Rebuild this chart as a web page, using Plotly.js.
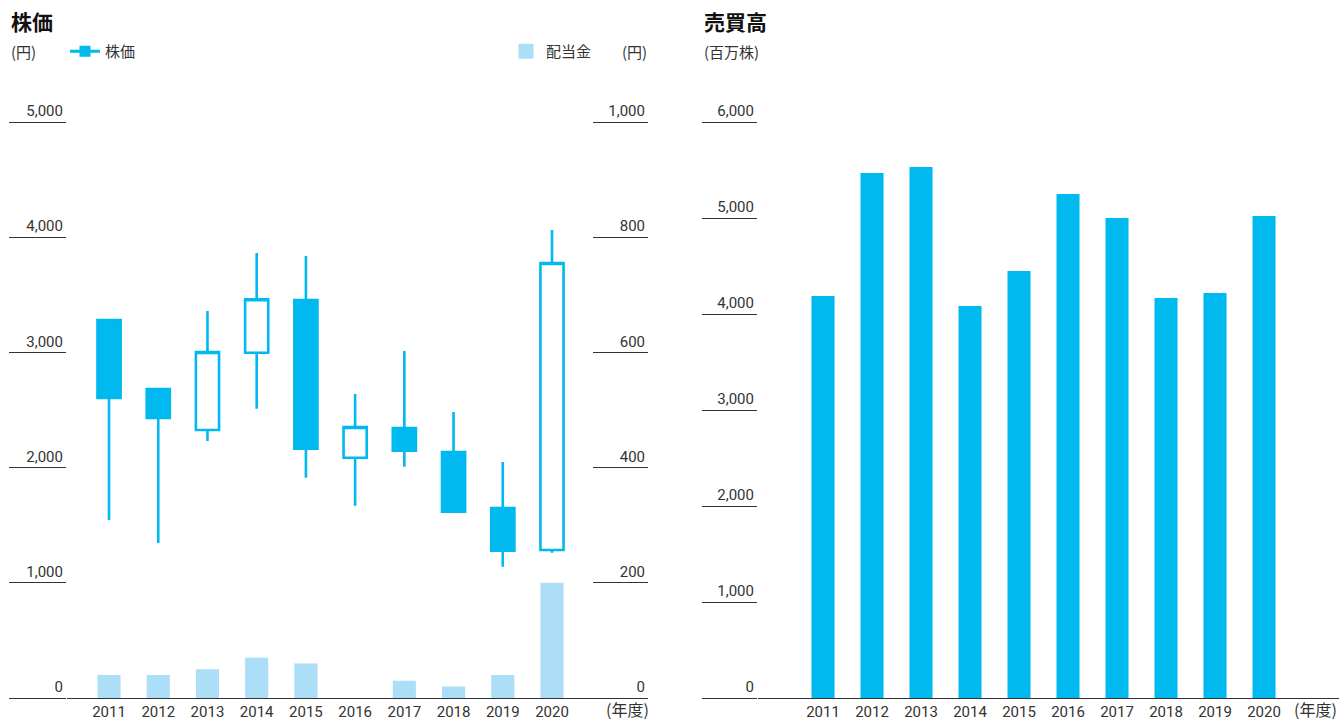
<!DOCTYPE html>
<html>
<head>
<meta charset="utf-8">
<script src="https://cdn.plot.ly/plotly-3.0.1.min.js"></script>
<style>html,body{margin:0;padding:0;background:#fff;}#chart{width:1339px;height:720px;}</style>
</head>
<body>
<div id="chart"></div>
<script>
const years = ['2011','2012','2013','2014','2015','2016','2017','2018','2019','2020'];
const priceOpen  = [3281, 2682, 2326, 2997, 3455, 2086, 2344, 2135, 1649, 1285];
const priceHigh  = [3281, 2690, 3359, 3863, 3837, 2639, 3012, 2483, 2049, 4063];
const priceLow   = [1545, 1345, 2231, 2511, 1912, 1669, 2008, 1617, 1140, 1261];
const priceClose = [2604, 2431, 3003, 3461, 2164, 2352, 2147, 1617, 1279, 3776];
const dividends  = [40, 40, 50, 70, 60, 0, 30, 20, 40, 200];
const volume     = [4188, 5469, 5531, 4083, 4448, 5250, 5000, 4167, 4219, 5021];
const priceTicks = [0, 1000, 2000, 3000, 4000, 5000];
const priceTickText = ['0', '1,000', '2,000', '3,000', '4,000', '5,000'];
const divTicks = [0, 200, 400, 600, 800, 1000];
const divTickText = ['0', '200', '400', '600', '800', '1,000'];
const volTicks = [0, 1000, 2000, 3000, 4000, 5000, 6000];
const volTickText = ['0', '1,000', '2,000', '3,000', '4,000', '5,000', '6,000'];

const W = 1339, H = 720;
const px = v => v / W;
const py = v => 1 - v / H;
const CYAN = '#00B9EF';
const LIGHT = '#ADDEF7';
const TXT = '#333333';
const FONT = 'Roboto, "Noto Sans CJK JP", sans-serif';
const JFONT = '"Noto Sans CJK JP", Roboto, sans-serif';

const traces = [
  {
    type: 'bar', x: years, y: dividends, xaxis: 'x', yaxis: 'y2',
    name: '配当金', marker: {color: LIGHT}, showlegend: false,
    hoverinfo: 'skip'
  },
  {
    type: 'scatter', x: [null], y: [null], xaxis: 'x', yaxis: 'y2', name: '配当金',
    mode: 'markers', marker: {color: LIGHT, symbol: 'square', size: 15},
    legend: 'legend2', showlegend: true
  },
  {
    type: 'candlestick', x: years, open: priceOpen, high: priceHigh, low: priceLow, close: priceClose,
    xaxis: 'x', yaxis: 'y', name: '株価', showlegend: false, whiskerwidth: 0,
    increasing: {line: {color: CYAN, width: 2.6}, fillcolor: '#ffffff'},
    decreasing: {line: {color: CYAN, width: 2.6}, fillcolor: CYAN}
  },
  {
    type: 'scatter', x: [null], y: [null], xaxis: 'x', yaxis: 'y', name: '株価',
    mode: 'lines+markers', line: {color: CYAN, width: 3}, marker: {color: CYAN, symbol: 'square', size: 11},
    legend: 'legend', showlegend: true
  },
  {
    type: 'bar', x: years, y: volume, xaxis: 'x2', yaxis: 'y3', name: '売買高',
    marker: {color: CYAN}, showlegend: false
  }
];

const yCommon = {
  showgrid: false, zeroline: false, showline: false,
  ticks: 'outside', ticklen: 57, tickwidth: 1, tickcolor: TXT,
  ticklabelstandoff: -57, ticklabelshift: -11,
  tickfont: {family: FONT, size: 15, color: TXT},
  fixedrange: true
};

const layout = {
  width: W, height: H,
  margin: {l: 0, r: 0, t: 0, b: 0, autoexpand: false},
  paper_bgcolor: '#fff', plot_bgcolor: 'rgba(0,0,0,0)',
  font: {family: FONT, size: 15, color: TXT},
  bargap: 0.53, boxgap: 0.53, boxgroupgap: 0,
  xaxis: {
    domain: [px(67), px(593)], type: 'category', range: [-0.854, 9.833],
    showgrid: false, zeroline: false, showline: true, linecolor: TXT, linewidth: 1,
    ticks: '', tickfont: {family: FONT, size: 15, color: TXT},
    rangeslider: {visible: false}, fixedrange: true, anchor: 'y'
  },
  yaxis: Object.assign({}, yCommon, {
    domain: [py(698), py(122)], range: [0, 5000], tickvals: priceTicks, ticktext: priceTickText,
    anchor: 'x'
  }),
  yaxis2: Object.assign({}, yCommon, {
    domain: [py(698), py(122)], range: [0, 1000], tickvals: divTicks, ticktext: divTickText,
    overlaying: 'y', side: 'left', anchor: 'free', position: px(648), ticklen: 55, ticklabelstandoff: -55
  }),
  xaxis2: {
    domain: [px(758), 1], type: 'category', range: [-1.327, 10.53],
    showgrid: false, zeroline: false, showline: true, linecolor: TXT, linewidth: 1,
    ticks: '', tickfont: {family: FONT, size: 15, color: TXT}, fixedrange: true, anchor: 'y3'
  },
  yaxis3: Object.assign({}, yCommon, {
    domain: [py(698), py(122)], range: [0, 6000], tickvals: volTicks, ticktext: volTickText,
    anchor: 'x2', ticklen: 55, ticklabelstandoff: -55
  }),
  legend: {
    x: px(65), y: py(35), xanchor: 'left', yanchor: 'top', orientation: 'h',
    font: {family: JFONT, size: 15, color: TXT}, bgcolor: 'rgba(0,0,0,0)', itemwidth: 30
  },
  legend2: {
    x: px(506), y: py(35), xanchor: 'left', yanchor: 'top', orientation: 'h',
    font: {family: JFONT, size: 15, color: TXT}, bgcolor: 'rgba(0,0,0,0)', itemwidth: 30
  },
  annotations: [
    {text: '<b>株価</b>', xref: 'paper', yref: 'paper', x: px(9), y: py(21), xanchor: 'left', yanchor: 'middle', showarrow: false, font: {family: JFONT, size: 21, color: '#111'}},
    {text: '(円)', xref: 'paper', yref: 'paper', x: px(9), y: py(52), xanchor: 'left', yanchor: 'middle', showarrow: false, font: {family: JFONT, size: 15, color: TXT}},
    {text: '(円)', xref: 'paper', yref: 'paper', x: px(649), y: py(52), xanchor: 'right', yanchor: 'middle', showarrow: false, font: {family: JFONT, size: 15, color: TXT}},
    {text: '(年度)', xref: 'paper', yref: 'paper', x: px(651), y: py(709), xanchor: 'right', yanchor: 'middle', showarrow: false, font: {family: JFONT, size: 16, color: TXT}},
    {text: '<b>売買高</b>', xref: 'paper', yref: 'paper', x: px(702), y: py(21), xanchor: 'left', yanchor: 'middle', showarrow: false, font: {family: JFONT, size: 21, color: '#111'}},
    {text: '(百万株)', xref: 'paper', yref: 'paper', x: px(702), y: py(52), xanchor: 'left', yanchor: 'middle', showarrow: false, font: {family: JFONT, size: 15, color: TXT}},
    {text: '(年度)', xref: 'paper', yref: 'paper', x: 1, y: py(709), xanchor: 'right', yanchor: 'middle', showarrow: false, font: {family: JFONT, size: 16, color: TXT}}
  ]
};

Plotly.newPlot('chart', traces, layout, {displayModeBar: false, staticPlot: true});
</script>
</body>
</html>
